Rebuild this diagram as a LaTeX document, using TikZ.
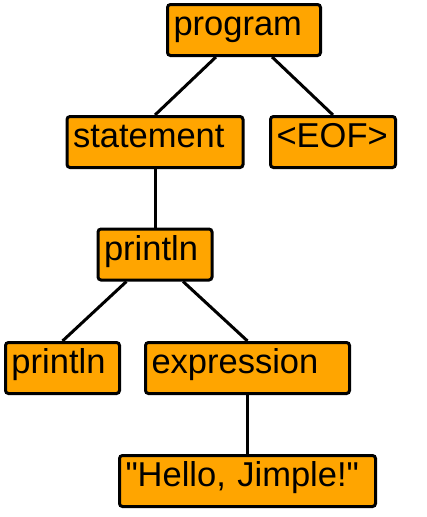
\documentclass[tikz,border=0pt]{standalone}
\usepackage{fontspec}
\setmainfont{Liberation Sans}[Ligatures=TeXOff]
\usetikzlibrary{calc}
\definecolor{boxorange}{HTML}{FFA500}
\begin{document}
\begin{tikzpicture}[x=1pt,y=-1pt,
  treenode/.style={draw=black, line width=3pt, fill=boxorange, rounded corners=3pt,
    inner xsep=6pt, inner ysep=0pt, text height=31pt, text depth=20pt, align=left,
    font=\fontsize{34.5}{40}\selectfont},
  edge/.style={line width=3pt}]
\useasboundingbox (0,0) rectangle (426,517);
\node[treenode, text width=141pt] (prog) at (244,30) {program};
\node[treenode, text width=164pt] (stmt) at (155,142) {statement};
\node[treenode, text width=113pt] (eof) at (333,142) {<EOF>};
\node[treenode, text width=102pt] (pr1) at (155,254.5) {println};
\node[treenode, text width=102pt] (pr2) at (62.5,368) {println};
\node[treenode, text width=192pt] (expr) at (247.5,368) {expression};
\node[treenode, text width=244pt] (hello) at (247.5,481) {"Hello, Jimple!"};
\draw[edge] ($(prog.south west)!0.32!(prog.south east)$) -- (stmt.north);
\draw[edge] ($(prog.south west)!0.68!(prog.south east)$) -- (eof.north);
\draw[edge] (stmt.south) -- (pr1.north);
\draw[edge] ($(pr1.south west)!0.256!(pr1.south east)$) -- (pr2.north);
\draw[edge] ($(pr1.south west)!0.74!(pr1.south east)$) -- (expr.north);
\draw[edge] (expr.south) -- (hello.north);
\end{tikzpicture}
\end{document}
